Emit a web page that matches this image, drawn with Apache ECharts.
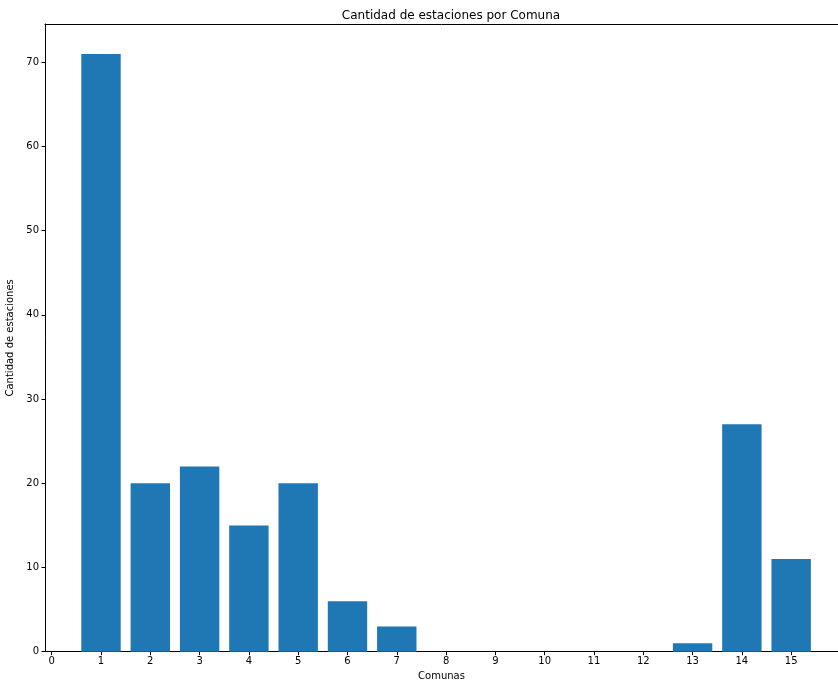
<!DOCTYPE html>
<html>
<head>
<meta charset="utf-8">
<script src="https://cdn.jsdelivr.net/npm/echarts@6/dist/echarts.min.js"></script>
<style>html,body{margin:0;padding:0;background:#fff}#c{width:838px;height:681px}</style>
</head>
<body>
<div id="c"></div>
<script>
const comunas = [1, 2, 3, 4, 5, 6, 7, 13, 14, 15];
const estaciones = [71, 20, 22, 15, 20, 6, 3, 1, 27, 11];
const xTicks = [0,1,2,3,4,5,6,7,8,9,10,11,12,13,14,15];
const yTicks = [0,10,20,30,40,50,60,70];

const chart = echarts.init(document.getElementById('c'), null, {renderer: 'canvas', width: 838, height: 681});
const font = 'DejaVu Sans';
chart.setOption({
  animation: false,
  backgroundColor: '#fff',
  title: {
    text: 'Cantidad de estaciones por Comuna',
    left: 446, top: 5, textAlign: 'center',
    textStyle: {fontFamily: font, fontSize: 12, fontWeight: 'normal', color: '#000'}
  },
  grid: {left: 45, right: 0, top: 24, bottom: 29.3, containLabel: false, outerBoundsMode: 'none'},
  xAxis: [{
    type: 'value', min: -0.136, max: 15.95, interval: 1,
    name: 'Comunas', nameLocation: 'middle', nameGap: 19,
    nameTextStyle: {fontFamily: font, fontSize: 10, color: '#000'},
    axisLine: {show: true, onZero: false, lineStyle: {color: '#000', width: 1}},
    axisTick: {show: true, length: 3.5, lineStyle: {color: '#000'}, customValues: xTicks},
    axisLabel: {fontFamily: font, fontSize: 10, color: '#000', margin: 5, customValues: xTicks},
    splitLine: {show: false}
  }, {
    type: 'value', position: 'top', min: -0.136, max: 15.95,
    axisLine: {show: true, onZero: false, lineStyle: {color: '#000', width: 1}},
    axisTick: {show: false}, axisLabel: {show: false}, splitLine: {show: false}
  }],
  yAxis: {
    type: 'value', min: 0, max: 74.55, interval: 10,
    name: 'Cantidad de estaciones', nameLocation: 'middle', nameGap: 23,
    nameTextStyle: {fontFamily: font, fontSize: 10, color: '#000'},
    axisLine: {show: true, onZero: false, lineStyle: {color: '#000', width: 1}},
    axisTick: {show: true, length: 3.5, lineStyle: {color: '#000'}, customValues: yTicks},
    axisLabel: {fontFamily: font, fontSize: 10, color: '#000', margin: 6, customValues: yTicks},
    splitLine: {show: false}
  },
  series: [{
    type: 'bar',
    xAxisIndex: 0,
    data: comunas.map((c, i) => [c, estaciones[i]]),
    barWidth: 39.4,
    itemStyle: {color: '#1f77b4'}
  }]
});
</script>
</body>
</html>
